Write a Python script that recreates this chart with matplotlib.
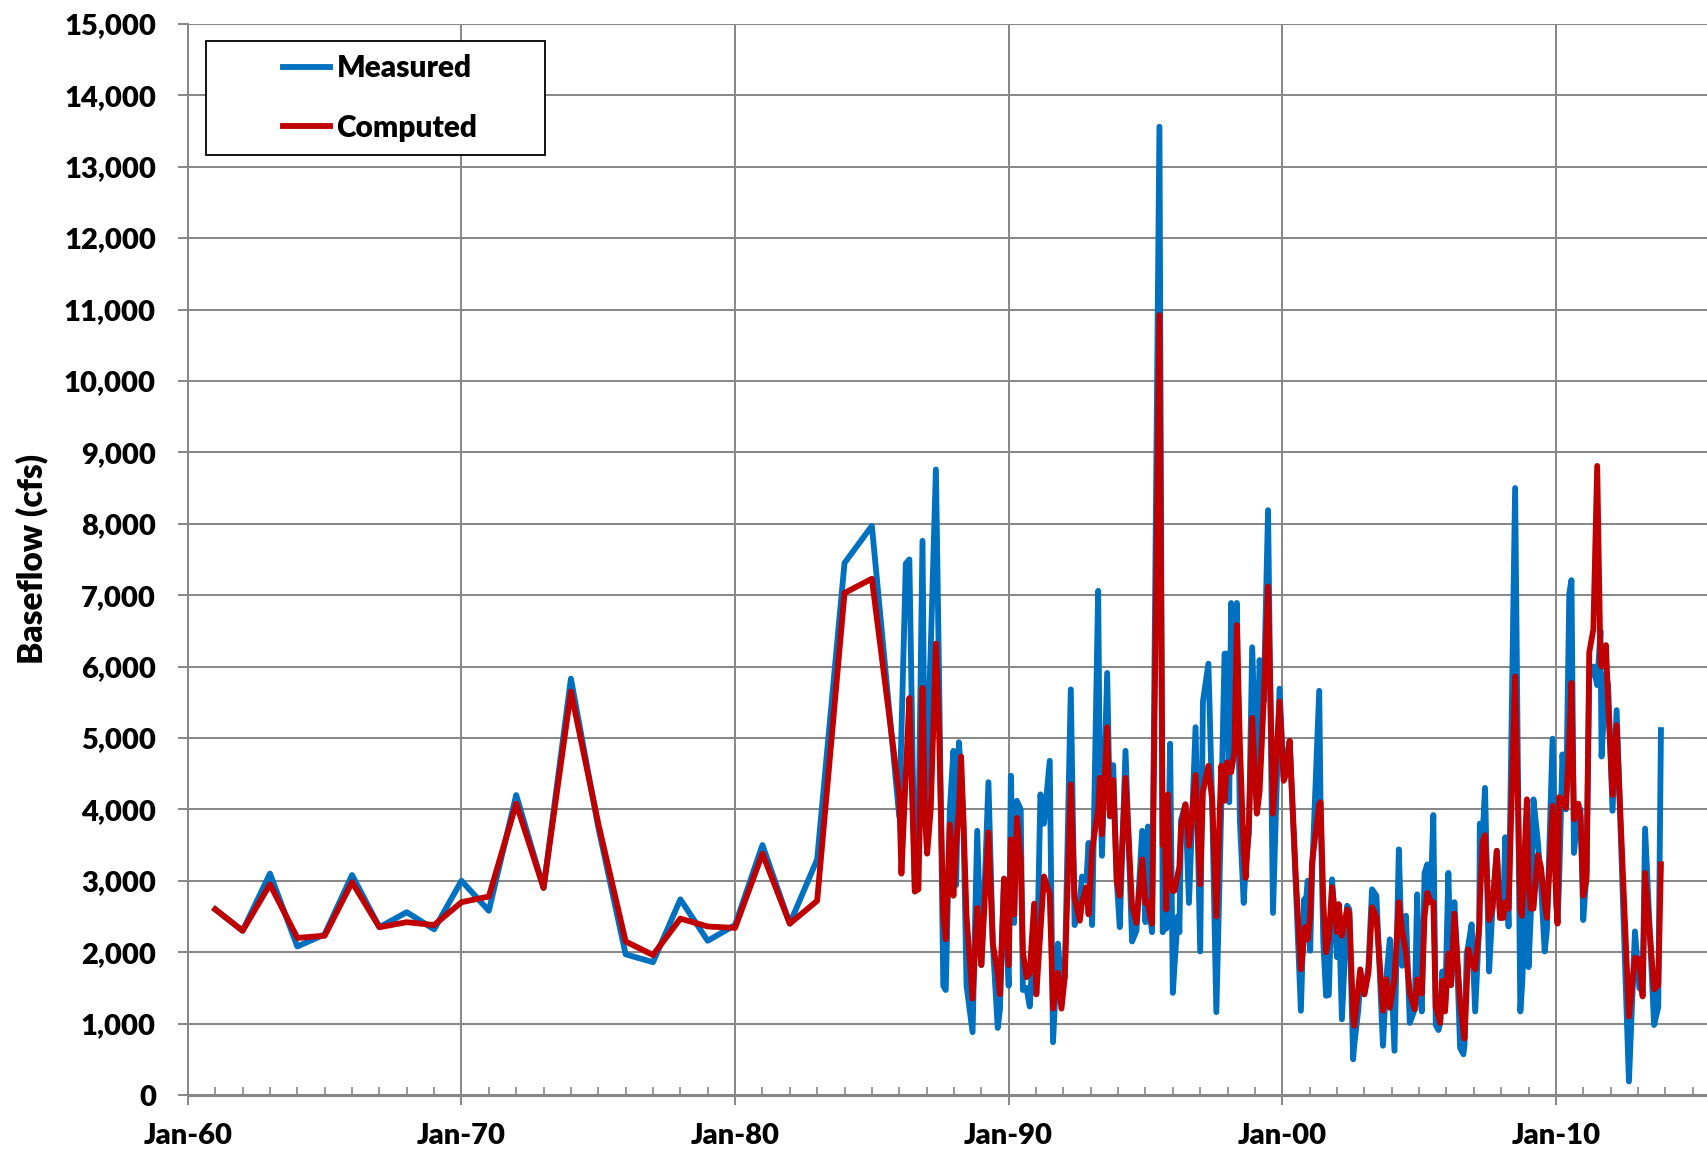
import matplotlib
matplotlib.use("Agg")
import matplotlib.pyplot as plt
from matplotlib.patches import Rectangle
from matplotlib.ticker import FixedLocator, FuncFormatter, MultipleLocator

plt.rcParams['font.family'] = ['Lato', 'DejaVu Sans']
plt.rcParams['font.weight'] = 'heavy'
WT = 'heavy'

# sample dates as decimal years (annual to 1985, then dense record)
years = [
    1961, 1962, 1963, 1964, 1965, 1966, 1967, 1968, 1969, 1970,
    1971, 1972, 1973, 1974, 1975, 1976, 1977, 1978, 1979, 1980,
    1981, 1982, 1983, 1984, 1985,
    1986.0, 1986.08, 1986.24, 1986.37, 1986.57, 1986.7, 1986.85, 1986.94, 1987.02, 1987.15,
    1987.34, 1987.45, 1987.61, 1987.7, 1987.85, 1987.98, 1988.08, 1988.18, 1988.26, 1988.35,
    1988.46, 1988.68, 1988.85, 1989.0, 1989.12, 1989.26, 1989.42, 1989.6, 1989.68, 1989.83,
    1990.0, 1990.08, 1990.2, 1990.3, 1990.44, 1990.52, 1990.65, 1990.77, 1990.93, 1991.01,
    1991.16, 1991.29, 1991.5, 1991.62, 1991.8, 1991.93, 1992.05, 1992.27, 1992.41, 1992.6,
    1992.68, 1992.84, 1992.92, 1993.05, 1993.27, 1993.33, 1993.41, 1993.6, 1993.7, 1993.82,
    1993.95, 1994.06, 1994.27, 1994.51, 1994.67, 1994.88, 1995.0, 1995.09, 1995.17, 1995.24,
    1995.51, 1995.63, 1995.7, 1995.76, 1995.82, 1995.9, 1996.0, 1996.06, 1996.18, 1996.24,
    1996.3, 1996.46, 1996.59, 1996.83, 1997.0, 1997.1, 1997.3, 1997.44, 1997.59, 1997.77,
    1997.89, 1997.98, 1998.06, 1998.13, 1998.25, 1998.34, 1998.45, 1998.59, 1998.66, 1998.78,
    1998.9, 1999.07, 1999.17, 1999.32, 1999.48, 1999.66, 1999.9, 2000.05, 2000.15, 2000.27,
    2000.5, 2000.68, 2000.8, 2000.84, 2000.93, 2001.02, 2001.09, 2001.35, 2001.4, 2001.5,
    2001.6, 2001.7, 2001.82, 2002.0, 2002.06, 2002.18, 2002.37, 2002.45, 2002.59, 2002.63,
    2002.78, 2002.85, 2003.0, 2003.15, 2003.28, 2003.44, 2003.68, 2003.8, 2003.93, 2004.1,
    2004.26, 2004.38, 2004.52, 2004.66, 2004.84, 2004.93, 2005.0, 2005.1, 2005.2, 2005.3,
    2005.42, 2005.52, 2005.61, 2005.71, 2005.77, 2005.85, 2005.95, 2006.07, 2006.17, 2006.29,
    2006.38, 2006.5, 2006.62, 2006.66, 2006.74, 2006.8, 2006.92, 2007.05, 2007.2, 2007.22,
    2007.32, 2007.41, 2007.56, 2007.68, 2007.84, 2007.96, 2008.08, 2008.15, 2008.27, 2008.51,
    2008.7, 2008.76, 2008.94, 2009.0, 2009.08, 2009.18, 2009.34, 2009.45, 2009.59, 2009.67,
    2009.88, 2010.02, 2010.06, 2010.12, 2010.24, 2010.37, 2010.49, 2010.57, 2010.66, 2010.82,
    2010.9, 2011.0, 2011.12, 2011.22, 2011.37, 2011.51, 2011.63, 2011.67, 2011.83, 2011.91,
    2012.04, 2012.07, 2012.22, 2012.67, 2012.89, 2013.05, 2013.17, 2013.26, 2013.59, 2013.74,
    2013.84,
]

measured = [
    2600, 2300, 3100, 2080, 2250, 3080, 2350, 2560, 2320, 3000,
    2580, 4200, 2900, 5830, 3750, 1970, 1860, 2740, 2160, 2380,
    3500, 2400, 3300, 7450, 7970,
    3900, 5100, 7440, 7500, 2850, 3600, 7760, 3900, 4760, 6230,
    8760, 6000, 1530, 1470, 4000, 4820, 2940, 4940, 4500, 3760,
    1530, 880, 3700, 1820, 2900, 4380, 2120, 940, 1200, 3030,
    1530, 4470, 2410, 4120, 4000, 1470, 1500, 1240, 2350, 1410,
    4210, 3800, 4680, 740, 2120, 1500, 1650, 5680, 2380, 2700,
    3060, 3000, 3530, 2380, 7060, 4500, 3350, 5910, 3900, 4620,
    3000, 2350, 4820, 2150, 2300, 3700, 2420, 3760, 2500, 2280,
    13560, 2280, 2500, 2330, 3000, 4920, 1430, 1800, 2500, 2280,
    3850, 4070, 2690, 5150, 2010, 5510, 6040, 4030, 1160, 4030,
    6180, 6180, 4100, 6890, 4800, 6890, 3850, 2690, 3200, 3670,
    6270, 4210, 6090, 5510, 8190, 2550, 5690, 4450, 4700, 4960,
    2880, 1180, 2740, 2600, 3000, 2020, 3100, 5660, 4000, 2140,
    1390, 1400, 3020, 1930, 2670, 1060, 2650, 2600, 500, 700,
    1200, 1600, 1410, 1800, 2880, 2790, 690, 1620, 2180, 620,
    3440, 1810, 2510, 1010, 1200, 2810, 1500, 1170, 3110, 3230,
    2700, 3920, 980, 910, 1000, 1730, 1200, 3110, 1540, 2700,
    2000, 660, 570, 700, 1980, 2100, 2390, 1170, 2400, 3800,
    3600, 4300, 1730, 2610, 3420, 2480, 2600, 3610, 2360, 8500,
    1170, 1500, 3000, 1790, 2500, 4140, 3550, 3000, 2010, 2300,
    4990, 2670, 2420, 3000, 4770, 4000, 7020, 7210, 3390, 4000,
    4000, 2450, 3100, 5840, 6000, 5740, 6500, 4740, 5900, 5740,
    4300, 3980, 5390, 190, 2290, 1500, 1450, 3730, 980, 1230,
    5110,
]

computed = [
    2600, 2300, 2950, 2200, 2230, 2980, 2350, 2420, 2380, 2700,
    2780, 4080, 2900, 5650, 3800, 2150, 1960, 2470, 2360, 2340,
    3380, 2400, 2720, 7030, 7230,
    4200, 3100, 4500, 5560, 2850, 2880, 5700, 3900, 3380, 4000,
    6320, 5200, 2500, 2180, 3790, 2790, 3500, 4000, 4740, 3800,
    2500, 1350, 2620, 1820, 2700, 3680, 2120, 1700, 1410, 3030,
    1820, 3580, 2530, 3880, 3300, 2000, 1650, 1710, 2680, 1410,
    2290, 3060, 2820, 1210, 1710, 1210, 1650, 4350, 2760, 2440,
    2700, 2910, 2530, 3440, 4000, 4440, 3650, 5150, 3910, 4410,
    3000, 2790, 4440, 2650, 2410, 3300, 2690, 2700, 2500, 2400,
    10920, 3500, 3760, 2600, 4210, 3040, 2860, 2860, 3090, 3200,
    3760, 4070, 3490, 4480, 2950, 4250, 4610, 4120, 2500, 4610,
    4120, 4660, 4600, 4520, 4800, 6580, 4920, 3400, 3040, 3800,
    5280, 3940, 4250, 5510, 7120, 3940, 5510, 4400, 4500, 4960,
    3000, 1760, 2200, 2350, 2180, 2500, 3260, 4070, 4100, 2700,
    2000, 2200, 2910, 2280, 2670, 2230, 2600, 2550, 1100, 970,
    1500, 1760, 1410, 1710, 2630, 2500, 1180, 1620, 1220, 1620,
    2700, 2300, 2000, 1430, 1200, 1620, 1600, 1420, 2500, 2830,
    2700, 2700, 1230, 1100, 1010, 1600, 1170, 1980, 1540, 2540,
    2000, 1300, 900, 790, 1500, 2040, 1850, 1760, 2360, 2700,
    3550, 3640, 2450, 2610, 3420, 2480, 2480, 2700, 2610, 5860,
    2600, 2510, 4140, 3000, 2610, 2610, 3360, 3200, 2700, 2480,
    4050, 2670, 2400, 4170, 4140, 4020, 5000, 5770, 3860, 4080,
    3900, 2790, 3030, 6200, 6520, 8810, 6050, 6000, 6300, 5500,
    4420, 4200, 5180, 1100, 1920, 1900, 1380, 3110, 1480, 1540,
    3230,
]

decades = [1960, 1970, 1980, 1990, 2000, 2010]

fig = plt.figure(figsize=(17.08, 11.53), dpi=100)
ax = fig.add_axes([0.110, 0.0503, 0.890, 0.929])

grid_col = '#868686'
ax.plot(years, measured, color='#0070C0', lw=4.2, solid_joinstyle='round', label='Measured', zorder=3)
ax.plot(years, computed, color='#C00000', lw=4.2, solid_joinstyle='round', label='Computed', zorder=4)

ax.set_xlim(1960, 2015.56)
ax.set_ylim(0, 15000)
ax.xaxis.set_major_locator(FixedLocator(decades))
ax.xaxis.set_minor_locator(MultipleLocator(1))
ax.xaxis.set_major_formatter(FuncFormatter(lambda v, p: f"Jan-{int(round(v)) % 100:02d}"))
ax.yaxis.set_major_locator(MultipleLocator(1000))
ax.yaxis.set_major_formatter(FuncFormatter(lambda v, p: f"{int(v):,}"))

ax.grid(True, which='major', color=grid_col, lw=1.4)
ax.set_axisbelow(True)
for s in ['top', 'right']:
    ax.spines[s].set_visible(False)
ax.spines['left'].set_color(grid_col)
ax.spines['left'].set_linewidth(1.4)
ax.spines['bottom'].set_color(grid_col)
ax.spines['bottom'].set_linewidth(2.2)

ax.tick_params(axis='both', which='major', labelsize=21, color=grid_col, width=1.4, length=7)
ax.tick_params(axis='y', which='major', pad=16)
ax.tick_params(axis='x', which='major', pad=13)
ax.tick_params(axis='x', which='minor', direction='in', length=6, width=1.2, color=grid_col)
for lab in ax.get_xticklabels() + ax.get_yticklabels():
    lab.set_fontweight(WT)

ax.set_ylabel('Baseflow (cfs)', fontsize=24, fontweight=WT)
ax.yaxis.set_label_coords(-0.092, 0.5)

# legend box drawn separately so the padding matches
box = Rectangle((0.1206, 0.8656), 0.1985, 0.0988, transform=fig.transFigure,
                facecolor='white', edgecolor='black', lw=1.3, zorder=5, clip_on=False)
ax.add_artist(box)
leg = ax.legend(loc='center', bbox_to_anchor=(0.2225, 0.915), bbox_transform=fig.transFigure,
                frameon=False, handlelength=1.6, handletextpad=0.2,
                labelspacing=1.05, prop={'weight': WT, 'size': 21.5})
leg.set_zorder(6)

fig.savefig('out.png', dpi=100)
